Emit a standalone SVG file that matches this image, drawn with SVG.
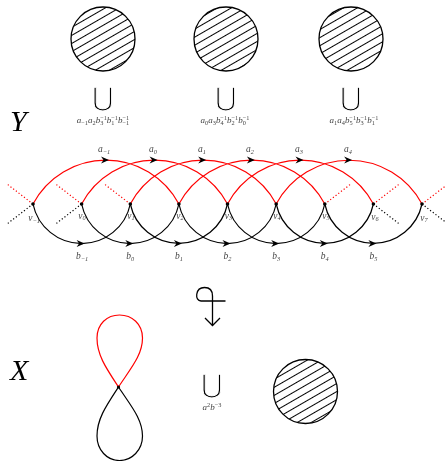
<svg xmlns="http://www.w3.org/2000/svg" width="446" height="461" viewBox="0 0 446 461">
<style>
text{filter:url(#gray)}
.disc{fill:url(#hatch);stroke:#000;stroke-width:1.3}
.red{fill:none;stroke:#f00;stroke-width:1.2}
.blk{fill:none;stroke:#000;stroke-width:1.2}
.rdot{fill:none;stroke:#f00;stroke-width:1.2;stroke-dasharray:1.2 2.2}
.bdot{fill:none;stroke:#000;stroke-width:1.2;stroke-dasharray:1.2 2.2}
.big{font-family:"Liberation Serif",serif;font-style:italic;font-size:30px;fill:#000}
.lab{font-family:"Liberation Serif",serif;font-style:italic;font-size:9.5px;fill:#444;text-anchor:middle}
.frm{font-family:"Liberation Serif",serif;font-style:italic;font-size:9px;fill:#444;text-anchor:middle}
.s{font-size:6.3px;font-style:normal}
.si{font-size:6.3px}
.cup{font-family:"DejaVu Sans",sans-serif;font-size:26px;fill:#000;stroke:#fff;stroke-width:0.9;text-anchor:middle}
.vtx{fill:#000}
</style>
<defs>
<filter id="gray" x="-20%" y="-20%" width="140%" height="140%"><feOffset dx="0" dy="0"/></filter>
<pattern id="hatch" patternUnits="userSpaceOnUse" width="20" height="7" patternTransform="rotate(-30)">
<line x1="0" y1="3.5" x2="20" y2="3.5" stroke="#000" stroke-width="1"/>
</pattern>
<path id="ah" d="M0 0 L-8 -3.5 L-5.5 0 L-8 3.5 Z" fill="#000"/>
</defs>

<!-- top discs -->
<g id="disc1"><circle class="disc" cx="103" cy="39" r="32"/></g>
<g id="disc2"><circle class="disc" cx="226" cy="39" r="32"/></g>
<g id="disc3"><circle class="disc" cx="351" cy="39" r="32"/></g>

<g id="cup1"><text class="cup" x="103" y="106">⋃</text>
<text class="frm" x="103" y="123">a<tspan class="s" dy="1.5">−1</tspan><tspan dy="-1.5">a</tspan><tspan class="s" dy="1.5">2</tspan><tspan dy="-1.5">b</tspan><tspan class="s" dy="1.5">3</tspan><tspan class="s" dx="-3.2" dy="-5">−1</tspan><tspan dy="3.5">b</tspan><tspan class="s" dy="1.5">1</tspan><tspan class="s" dx="-3.2" dy="-5">−1</tspan><tspan dy="3.5">b</tspan><tspan class="s" dy="1.5">−1</tspan><tspan class="s" dx="-6.8" dy="-5">−1</tspan></text></g>
<g id="cup2"><text class="cup" x="226" y="106">⋃</text>
<text class="frm" x="225" y="123">a<tspan class="s" dy="1.5">0</tspan><tspan dy="-1.5">a</tspan><tspan class="s" dy="1.5">3</tspan><tspan dy="-1.5">b</tspan><tspan class="s" dy="1.5">4</tspan><tspan class="s" dx="-3.2" dy="-5">−1</tspan><tspan dy="3.5">b</tspan><tspan class="s" dy="1.5">2</tspan><tspan class="s" dx="-3.2" dy="-5">−1</tspan><tspan dy="3.5">b</tspan><tspan class="s" dy="1.5">0</tspan><tspan class="s" dx="-3.2" dy="-5">−1</tspan></text></g>
<g id="cup3"><text class="cup" x="351" y="106">⋃</text>
<text class="frm" x="354" y="123">a<tspan class="s" dy="1.5">1</tspan><tspan dy="-1.5">a</tspan><tspan class="s" dy="1.5">4</tspan><tspan dy="-1.5">b</tspan><tspan class="s" dy="1.5">5</tspan><tspan class="s" dx="-3.2" dy="-5">−1</tspan><tspan dy="3.5">b</tspan><tspan class="s" dy="1.5">3</tspan><tspan class="s" dx="-3.2" dy="-5">−1</tspan><tspan dy="3.5">b</tspan><tspan class="s" dy="1.5">1</tspan><tspan class="s" dx="-3.2" dy="-5">−1</tspan></text></g>

<g id="labelY"><text class="big" x="10" y="131">Y</text></g>

<!-- connectors -->
<g id="connectors">
<path class="red" d="M33 204 A82.6 82.6 0 0 1 178.9 204"/>
<path class="red" d="M81.6 204 A82.6 82.6 0 0 1 227.5 204"/>
<path class="red" d="M130.3 204 A82.6 82.6 0 0 1 276.2 204"/>
<path class="red" d="M178.9 204 A82.6 82.6 0 0 1 324.8 204"/>
<path class="red" d="M227.5 204 A82.6 82.6 0 0 1 373.4 204"/>
<path class="red" d="M276.2 204 A82.6 82.6 0 0 1 422 204"/>
<path class="blk" d="M33 204 A49.7 49.7 0 0 0 130.3 204"/>
<path class="blk" d="M81.6 204 A49.7 49.7 0 0 0 178.9 204"/>
<path class="blk" d="M130.3 204 A49.7 49.7 0 0 0 227.5 204"/>
<path class="blk" d="M178.9 204 A49.7 49.7 0 0 0 276.2 204"/>
<path class="blk" d="M227.5 204 A49.7 49.7 0 0 0 324.8 204"/>
<path class="blk" d="M276.2 204 A49.7 49.7 0 0 0 373.4 204"/>
<path class="blk" d="M324.8 204 A49.7 49.7 0 0 0 422 204"/>
<path class="rdot" d="M33 204 L7 184 M81.6 204 L55.6 184 M130.3 204 L104.3 184 M324.8 204 L350.8 184 M373.4 204 L399.4 184 M422 204 L448 184"/>
<path class="bdot" d="M33 204 L7 224 M81.6 204 L55.6 224 M373.4 204 L399.4 224 M422 204 L448 224"/>
<use href="#ah" x="109" y="160"/>
<use href="#ah" x="157.6" y="160"/>
<use href="#ah" x="206.2" y="160"/>
<use href="#ah" x="254.9" y="160"/>
<use href="#ah" x="303.5" y="160"/>
<use href="#ah" x="352.1" y="160"/>
<use href="#ah" x="84.6" y="243.6"/>
<use href="#ah" x="133.3" y="243.6"/>
<use href="#ah" x="181.9" y="243.6"/>
<use href="#ah" x="230.5" y="243.6"/>
<use href="#ah" x="279.2" y="243.6"/>
<use href="#ah" x="327.8" y="243.6"/>
<use href="#ah" x="376.4" y="243.6"/>
</g>

<g id="edge-labels">
<text class="lab" x="104" y="152">a<tspan class="si" dy="1.5">−1</tspan></text>
<text class="lab" x="153" y="152">a<tspan class="si" dy="1.5">0</tspan></text>
<text class="lab" x="202" y="152">a<tspan class="si" dy="1.5">1</tspan></text>
<text class="lab" x="250" y="152">a<tspan class="si" dy="1.5">2</tspan></text>
<text class="lab" x="299" y="152">a<tspan class="si" dy="1.5">3</tspan></text>
<text class="lab" x="348" y="152">a<tspan class="si" dy="1.5">4</tspan></text>
<text class="lab" x="82" y="259">b<tspan class="si" dy="1.5">−1</tspan></text>
<text class="lab" x="130.3" y="259">b<tspan class="si" dy="1.5">0</tspan></text>
<text class="lab" x="178.9" y="259">b<tspan class="si" dy="1.5">1</tspan></text>
<text class="lab" x="227.5" y="259">b<tspan class="si" dy="1.5">2</tspan></text>
<text class="lab" x="276.2" y="259">b<tspan class="si" dy="1.5">3</tspan></text>
<text class="lab" x="324.8" y="259">b<tspan class="si" dy="1.5">4</tspan></text>
<text class="lab" x="373.4" y="259">b<tspan class="si" dy="1.5">5</tspan></text>
</g>

<g id="v-1"><circle class="vtx" cx="33" cy="204" r="1.8"/><text class="lab" x="34" y="221">v<tspan class="si" dy="1.5">−1</tspan></text></g>
<g id="v0"><circle class="vtx" cx="81.6" cy="204" r="1.8"/><text class="lab" x="82" y="218.5">v<tspan class="si" dy="1.5">0</tspan></text></g>
<g id="v1"><circle class="vtx" cx="130.3" cy="204" r="1.8"/><text class="lab" x="131" y="218.5">v<tspan class="si" dy="1.5">1</tspan></text></g>
<g id="v2"><circle class="vtx" cx="178.9" cy="204" r="1.8"/><text class="lab" x="180" y="218.5">v<tspan class="si" dy="1.5">2</tspan></text></g>
<g id="v3"><circle class="vtx" cx="227.5" cy="204" r="1.8"/><text class="lab" x="228.5" y="218.5">v<tspan class="si" dy="1.5">3</tspan></text></g>
<g id="v4"><circle class="vtx" cx="276.2" cy="204" r="1.8"/><text class="lab" x="277" y="218.5">v<tspan class="si" dy="1.5">4</tspan></text></g>
<g id="v5"><circle class="vtx" cx="324.8" cy="204" r="1.8"/><text class="lab" x="326" y="218.5">v<tspan class="si" dy="1.5">5</tspan></text></g>
<g id="v6"><circle class="vtx" cx="373.4" cy="204" r="1.8"/><text class="lab" x="375" y="219.5">v<tspan class="si" dy="1.5">6</tspan></text></g>
<g id="v7"><circle class="vtx" cx="422" cy="204" r="1.8"/><text class="lab" x="424" y="220.5">v<tspan class="si" dy="1.5">7</tspan></text></g>

<!-- covering map arrow -->
<g id="cover-arrow" fill="none" stroke="#000" stroke-width="1.3">
<path d="M225.5 301 L201 301 C194.5 301 195 287.5 204.5 287.5 C210.5 287.5 212.5 291 212.5 296 L212.5 325.5"/>
<path d="M205 318 L212.5 325.5 L220 318"/>
</g>

<g id="labelX"><text class="big" x="10" y="380">X</text></g>

<g id="figure-eight">
<path class="red" d="M118.5 387 C106 368 97 355 97 338 C97 324 107 315 119.5 315 C132 315 142.5 324 142.5 338 C142.5 355 131 368 118.5 387"/>
<path class="blk" d="M118.5 387 C106 406 97 419 97 436 C97 450 107 460.5 119.5 460.5 C132 460.5 142.5 450 142.5 436 C142.5 419 131 406 118.5 387"/>
<circle class="vtx" cx="118.5" cy="387" r="1.6"/>
</g>

<g id="cup4"><text class="cup" x="212" y="393">⋃</text>
<text class="frm" x="212" y="410">a<tspan class="s" dy="-3">2</tspan><tspan dy="3">b</tspan><tspan class="s" dy="-3">−3</tspan></text></g>

<g id="disc4"><circle class="disc" cx="305.5" cy="391.5" r="32"/></g>
</svg>
